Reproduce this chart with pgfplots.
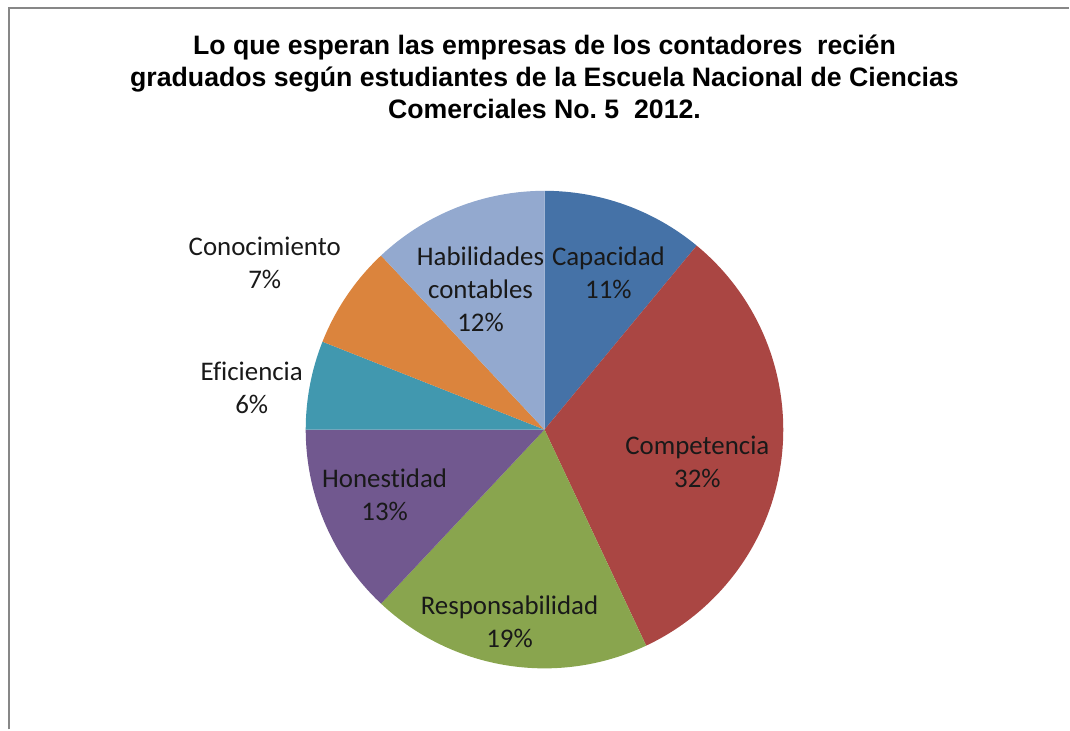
\documentclass[border=0pt]{standalone}
\usepackage{pgfplots}
\usepackage{pgfplotstable}
\pgfplotsset{compat=1.18}
\usepackage{fontspec}
\setmainfont{Carlito}[Ligatures=NoCommon]
\newfontfamily\titlefont{Liberation Sans}
\frenchspacing
\definecolor{cCap}{HTML}{4572A7}
\definecolor{cComp}{HTML}{AA4643}
\definecolor{cResp}{HTML}{89A54E}
\definecolor{cHon}{HTML}{71588F}
\definecolor{cEfi}{HTML}{4198AF}
\definecolor{cCon}{HTML}{DB843D}
\definecolor{cHab}{HTML}{93A9CF}
\pgfplotstableread{
name value col
Capacidad 11 cCap
Competencia 32 cComp
Responsabilidad 19 cResp
Honestidad 13 cHon
Eficiencia 6 cEfi
Conocimiento 7 cCon
Habilidades 12 cHab
}\piedata
\begin{document}
\begin{tikzpicture}
\begin{axis}[
  scale only axis, width=1070bp, height=730bp,
  xmin=0, xmax=1070, ymin=0, ymax=730,
  hide axis, clip=false,
]
\path (axis cs:0,0) rectangle (axis cs:1070,730);
\draw[color=black!47, line width=2bp] (axis cs:9,0) -- (axis cs:9,722) -- (axis cs:1070,722);
\def\cum{0}
\pgfplotsforeachungrouped \i in {0,...,6}{%
  \pgfplotstablegetelem{\i}{value}\of\piedata \let\v\pgfplotsretval
  \pgfplotstablegetelem{\i}{col}\of\piedata \let\c\pgfplotsretval
  \pgfmathsetmacro\sa{90-3.6*\cum}%
  \pgfmathsetmacro\ea{90-3.6*(\cum+\v)}%
  \edef\temp{\noexpand\fill[\c] (axis cs:545,300) -- ++(\sa:239bp) arc[start angle=\sa, end angle=\ea, radius=239bp] -- cycle;}%
  \temp
  \pgfmathsetmacro\cum{\cum+\v}%
}
\node[align=center, font=\titlefont\bfseries\fontsize{26.8}{32}\selectfont, inner sep=0] at (axis cs:545,653)
  {Lo que esperan las empresas de los contadores\ \ recién\\graduados según estudiantes de la Escuela Nacional de Ciencias\\Comerciales No.\ 5\ \ 2012.};
\tikzset{lab/.style={align=center, inner sep=0, text=black!90, font=\fontsize{27}{33}\selectfont}}
\node[lab] at (axis cs:609,457) {Capacidad\\11\%};
\node[lab] at (axis cs:698,267.5) {Competencia\\32\%};
\node[lab] at (axis cs:510,108) {Responsabilidad\\19\%};
\node[lab] at (axis cs:385,235) {Honestidad\\13\%};
\node[lab] at (axis cs:252,342) {Eficiencia\\6\%};
\node[lab] at (axis cs:265,467) {Conocimiento\\7\%};
\node[lab] at (axis cs:481,440.5) {Habilidades\\contables\\12\%};
\end{axis}
\end{tikzpicture}
\end{document}
